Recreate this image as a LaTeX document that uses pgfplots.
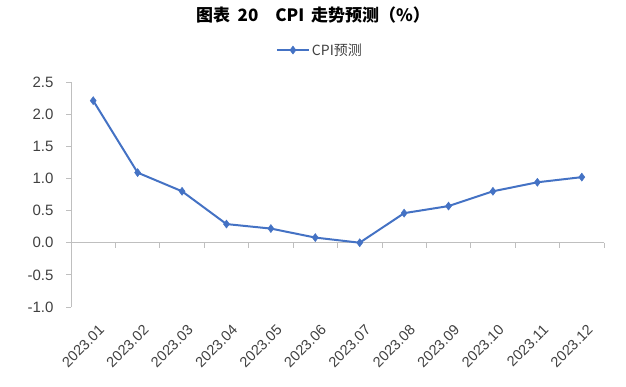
\documentclass[border=0pt]{standalone}
\usepackage{fontspec}
\setmainfont{Liberation Sans}
\newfontfamily\cjk{Noto Sans CJK SC}
\usepackage{pgfplots}
\pgfplotsset{compat=1.18}
\definecolor{cpiblue}{HTML}{4472C4}
\definecolor{axgray}{HTML}{BFBFBF}
\definecolor{txtgray}{HTML}{404040}
\begin{document}
\begin{tikzpicture}[x=1pt,y=1pt]
\useasboundingbox (0,0) rectangle (626,386);
\node[font=\cjk\bfseries\fontsize{17}{20}\selectfont, inner sep=0pt] at (313,371) {图表\hspace{0.45em}20\hspace{1em}CPI\hspace{0.4em}走势预测（\%）};
\begin{axis}[
  at={(71pt,79pt)}, anchor=south west,
  scale only axis, width=533pt, height=225pt,
  xmin=-0.5, xmax=11.5, ymin=-1, ymax=2.5,
  axis lines=left,
  x axis line style={draw=none},
  y axis line style={draw=axgray, line width=0.8pt, -},
  xtick={0,...,11},
  xticklabels={2023.01,2023.02,2023.03,2023.04,2023.05,2023.06,2023.07,2023.08,2023.09,2023.10,2023.11,2023.12},
  x tick style={draw=none},
  ytick={-1,-0.5,0,0.5,1,1.5,2,2.5},
  y tick style={draw=axgray, line width=0.8pt},
  tick align=outside,
  major tick length=5pt,
  /pgf/number format/assume math mode=true,
  yticklabel style={/pgf/number format/fixed, /pgf/number format/fixed zerofill, /pgf/number format/precision=1, font=\fontsize{15}{16}\selectfont, text=txtgray, xshift=-9pt},
  xticklabel style={rotate=45, anchor=east, font=\fontsize{14.5}{16}\selectfont, text=txtgray, inner sep=1pt, yshift=-17pt, xshift=-4pt},
  legend style={at={(axis description cs:0.467,1.142)}, anchor=center, draw=none, fill=none, font=\cjk\fontsize{14}{16}\selectfont, text=txtgray},
  legend image code/.code={\draw[#1, mark repeat=2, mark phase=2] plot coordinates {(0pt,0pt) (16pt,0pt) (32pt,0pt)};},
  clip=false,
]
\draw[axgray, line width=0.8pt] (axis cs:-0.5,0) -- (axis cs:11.5,0);
\pgfplotsinvokeforeach{0,...,12}{\draw[axgray, line width=0.8pt] (axis cs:#1-0.5,0) -- ++(0pt,-5pt);}
\addplot[color=cpiblue, line width=2pt, mark=diamond*, mark size=4pt, mark options={fill=cpiblue, line width=0.5pt}] coordinates {
(0,2.21) (1,1.09) (2,0.80) (3,0.29) (4,0.22) (5,0.08) (6,0.00) (7,0.46) (8,0.57) (9,0.80) (10,0.94) (11,1.02)
};
\addlegendentry{CPI预测}
\end{axis}
\end{tikzpicture}
\end{document}
